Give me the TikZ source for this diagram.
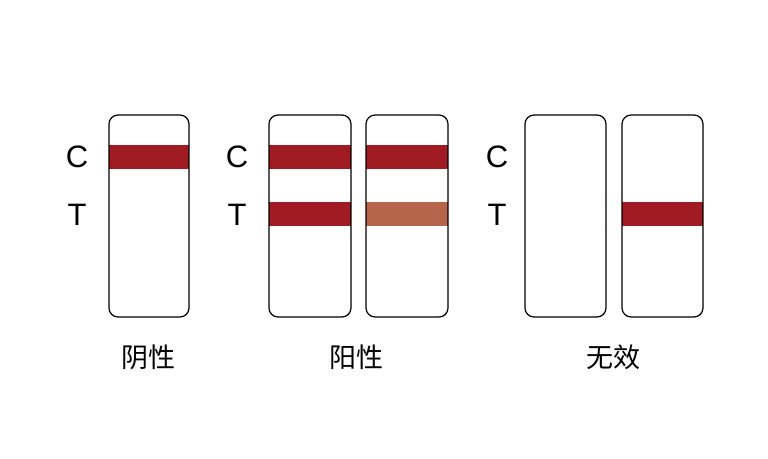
\documentclass[tikz,border=0pt]{standalone}
\usepackage{fontspec}
\setmainfont{Liberation Sans}
\newfontfamily\cjk{Noto Sans CJK SC}
\definecolor{bandred}{HTML}{A01B22}
\definecolor{bandbrown}{HTML}{B5654A}
\begin{document}
\begin{tikzpicture}[x=1pt,y=-1pt,
  strip/.style={draw=black,line width=1.2pt,rounded corners=9pt},
  lbl/.style={font=\fontsize{31}{31}\selectfont},
  captext/.style={font=\cjk\fontsize{27}{27}\selectfont}]
\useasboundingbox[fill=white] (0,0) rectangle (768,458);
% bands
\fill[bandred] (109,145) rectangle (189,169);
\fill[bandred] (269,145) rectangle (351,169);
\fill[bandred] (269,202) rectangle (351,226);
\fill[bandred] (366,145) rectangle (448,169);
\fill[bandbrown] (366,202) rectangle (448,226);
\fill[bandred] (622,202) rectangle (703,226);
% strips
\draw[strip] (109,115) rectangle (189,317);
\draw[strip] (269,115) rectangle (351,317);
\draw[strip] (366,115) rectangle (448,317);
\draw[strip] (525,115) rectangle (606,317);
\draw[strip] (622,115) rectangle (703,317);
% letters
\node[lbl] (c1) at (77,157) {C};
\node[lbl] (t1) at (77,215) {T};
\node[lbl] (c2) at (237,157) {C};
\node[lbl] (t2) at (237,215) {T};
\node[lbl] (c3) at (497,157) {C};
\node[lbl] (t3) at (497,215) {T};
% captions
\node[captext] (l1) at (148,357) {阴性};
\node[captext] (l2) at (356,357) {阳性};
\node[captext] (l3) at (613,357) {无效};
\end{tikzpicture}
\end{document}
